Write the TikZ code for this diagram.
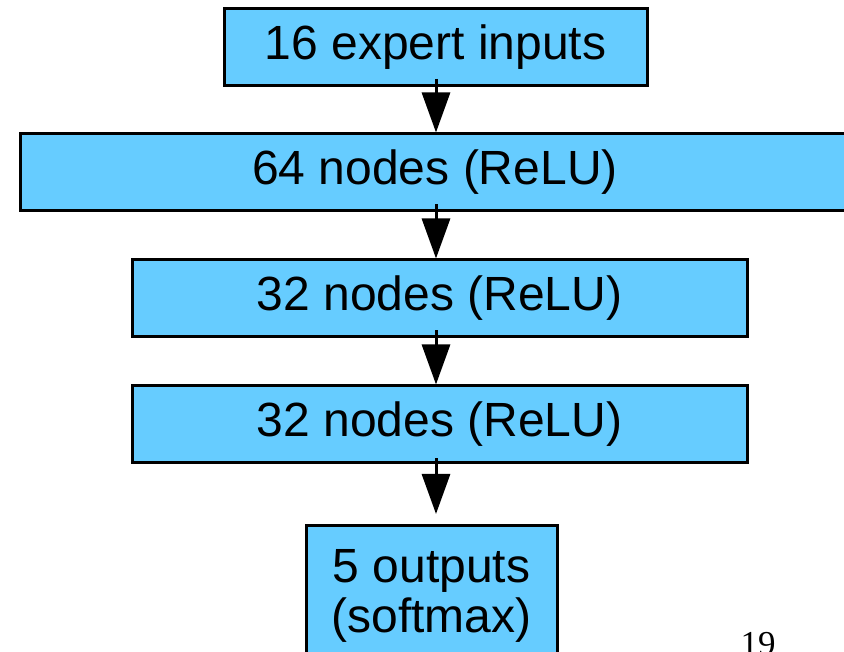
\documentclass[tikz,border=0pt]{standalone}
\usepackage{fontspec}
\setmainfont{Liberation Sans}
\newfontfamily\numfont{Liberation Serif}
\usetikzlibrary{arrows.meta,calc}
\definecolor{boxblue}{HTML}{66CCFF}
\begin{document}
\begin{tikzpicture}[x=1pt,y=1pt,font=\fontsize{48}{50}\selectfont,
	layer/.style={draw=black,fill=boxblue,line width=3pt,minimum height=77pt,inner sep=0pt},
	arr/.style={line width=3pt,-{Triangle[width=28pt,length=40pt]}}]
	\clip (0,0) rectangle (844,652);
	\path 
	(436,0) coordinate (A)
	;
	\node[layer,minimum width=423pt] (in) at (435.5,605) {16 expert inputs};
	\node[layer,minimum width=830pt] (h1) at (435,479.5) {64 nodes (ReLU)};
	\node[layer,minimum width=615pt] (h2) at (439.5,353.5) {32 nodes (ReLU)};
	\node[layer,minimum width=615pt] (h3) at (439.5,227.5) {32 nodes (ReLU)};
	\node[layer,minimum width=251pt,anchor=north,align=center,inner ysep=24pt] (out) at (431.5,128) {5 outputs\\(softmax)};
	\foreach \a/\b in {in/h1,h1/h2,h2/h3}{
		\draw[arr] ($(A |- \a.south)+(0,8)$) -- (A |- \b.north);
	}
	\draw[arr] ($(A |- h3.south)+(0,6)$) -- ($(A |- out.north)+(0,10)$);
	\node[font=\fontsize{35}{40}\selectfont\numfont,anchor=base] (pg) at (758,-4) {19};
	\end{tikzpicture}
\end{document}
